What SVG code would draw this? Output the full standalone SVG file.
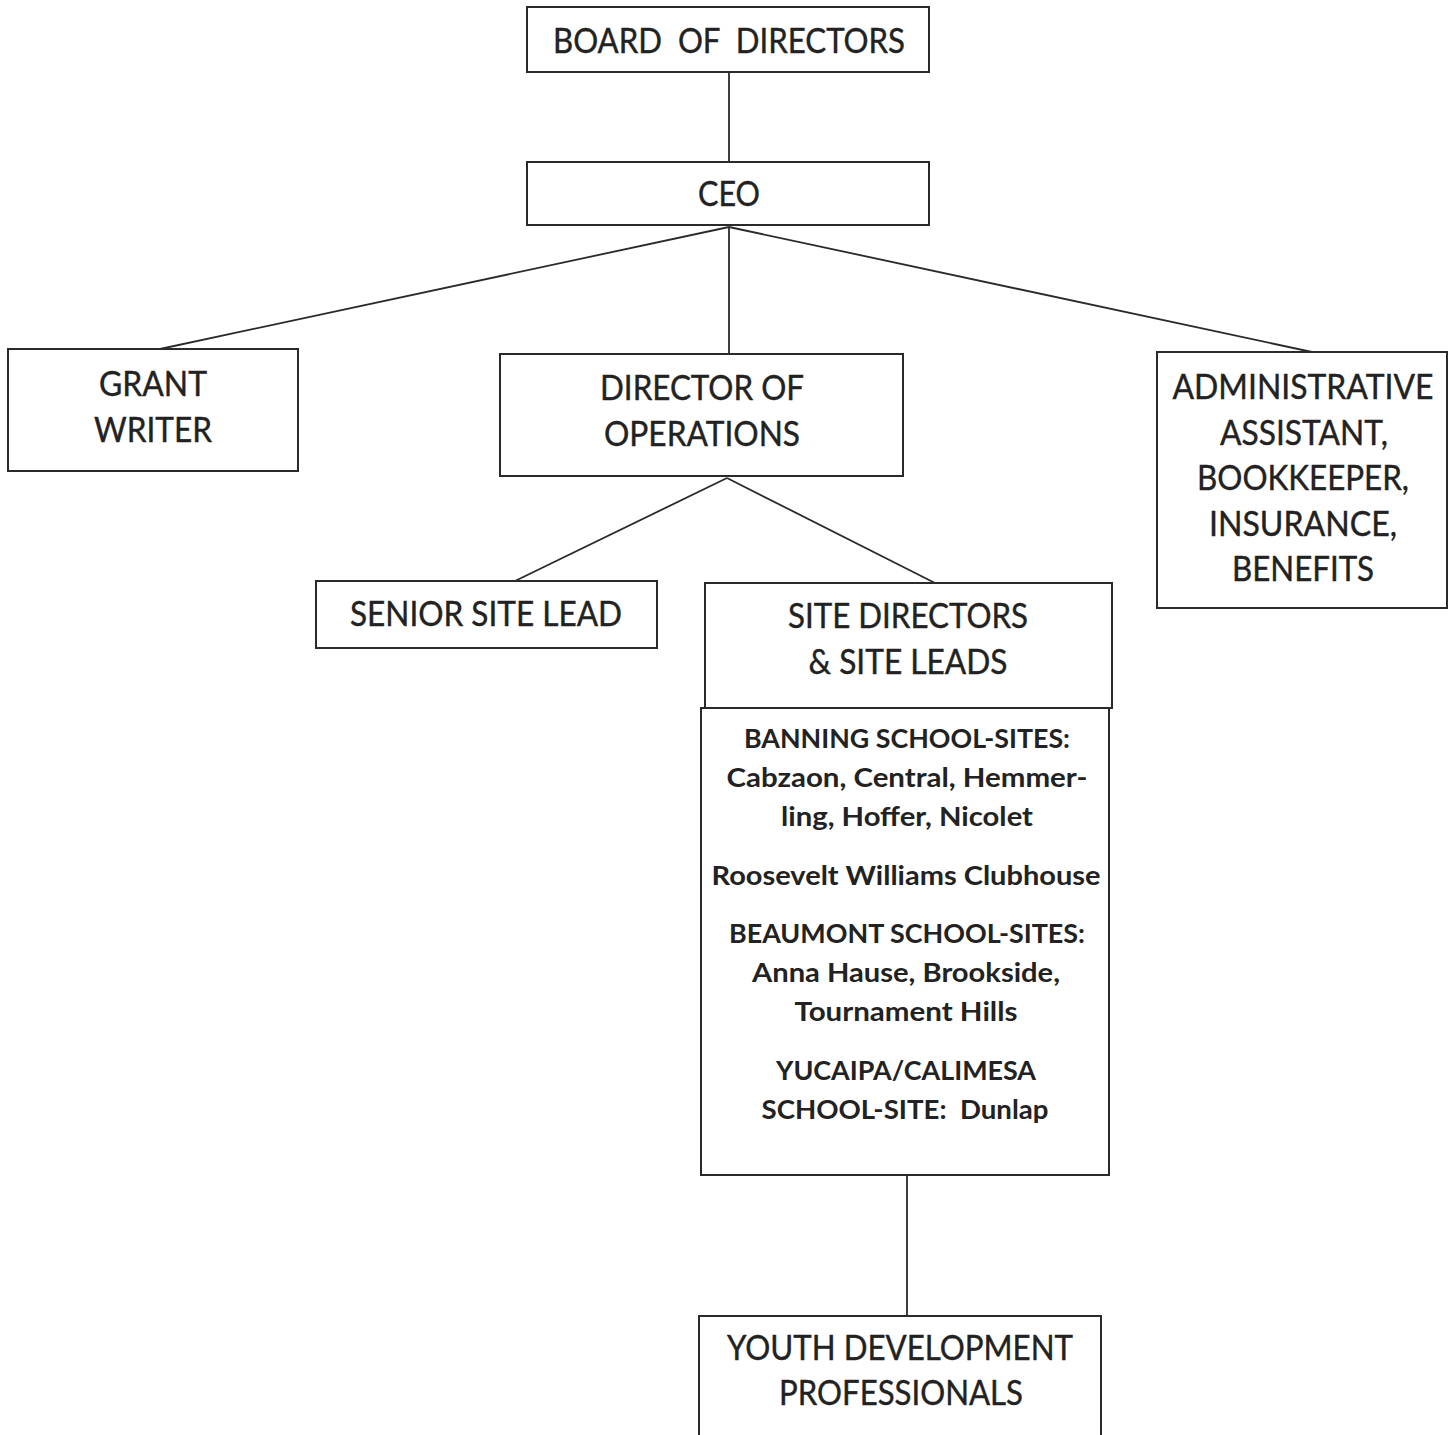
<svg xmlns="http://www.w3.org/2000/svg" width="1455" height="1435" viewBox="0 0 1455 1435">
<style>
.box{fill:#fff;stroke:#2a2a2a;stroke-width:2}
.ln{stroke:#2a2a2a;stroke-width:1.8;fill:none}
.t{font-family:Lato,"Open Sans","Liberation Sans",sans-serif;font-size:34px;fill:#222;text-anchor:middle;white-space:pre;stroke:#222;stroke-width:0.4}
.s{font-family:Lato,"Open Sans","Liberation Sans",sans-serif;font-size:27px;font-weight:bold;fill:#222;text-anchor:middle;white-space:pre}
</style>
<rect width="1455" height="1435" fill="#fff"/>
<g id="connectors">
<line class="ln" x1="729" y1="72" x2="729" y2="162"/>
<line class="ln" x1="729" y1="227" x2="160" y2="349"/>
<line class="ln" x1="729" y1="227" x2="729" y2="354"/>
<line class="ln" x1="729" y1="227" x2="1312" y2="352"/>
<line class="ln" x1="727" y1="478" x2="515" y2="581"/>
<line class="ln" x1="727" y1="478" x2="935" y2="583"/>
<line class="ln" x1="907" y1="1175" x2="907" y2="1316"/>
</g>
<g id="board">
<rect class="box" x="527" y="7" width="402" height="65"/>
<text class="t" x="729" y="53" xml:space="preserve" textLength="352" lengthAdjust="spacingAndGlyphs">BOARD  OF  DIRECTORS</text>
</g>
<g id="ceo">
<rect class="box" x="527" y="162" width="402" height="63"/>
<text class="t" x="729" y="206" textLength="62" lengthAdjust="spacingAndGlyphs">CEO</text>
</g>
<g id="grant-writer">
<rect class="box" x="8" y="349" width="290" height="122"/>
<text class="t" x="153" y="396" textLength="108" lengthAdjust="spacingAndGlyphs">GRANT</text>
<text class="t" x="153" y="442" textLength="118" lengthAdjust="spacingAndGlyphs">WRITER</text>
</g>
<g id="director-of-operations">
<rect class="box" x="500" y="354" width="403" height="122"/>
<text class="t" x="702" y="400" textLength="204" lengthAdjust="spacingAndGlyphs">DIRECTOR OF</text>
<text class="t" x="702" y="446" textLength="196" lengthAdjust="spacingAndGlyphs">OPERATIONS</text>
</g>
<g id="admin">
<rect class="box" x="1157" y="352" width="290" height="256"/>
<text class="t" x="1303" y="399" textLength="261" lengthAdjust="spacingAndGlyphs">ADMINISTRATIVE</text>
<text class="t" x="1304" y="445" textLength="168" lengthAdjust="spacingAndGlyphs">ASSISTANT,</text>
<text class="t" x="1303" y="490" textLength="212" lengthAdjust="spacingAndGlyphs">BOOKKEEPER,</text>
<text class="t" x="1303" y="536" textLength="188" lengthAdjust="spacingAndGlyphs">INSURANCE,</text>
<text class="t" x="1303" y="581" textLength="142" lengthAdjust="spacingAndGlyphs">BENEFITS</text>
</g>
<g id="senior-site-lead">
<rect class="box" x="316" y="581" width="341" height="67"/>
<text class="t" x="486" y="626" textLength="272" lengthAdjust="spacingAndGlyphs">SENIOR SITE LEAD</text>
</g>
<g id="site-directors">
<rect class="box" x="705" y="583" width="407" height="125"/>
<rect class="box" x="701" y="708" width="408" height="467"/>
<text class="t" x="908" y="628" textLength="240" lengthAdjust="spacingAndGlyphs">SITE DIRECTORS</text>
<text class="t" x="908" y="674" textLength="199" lengthAdjust="spacingAndGlyphs">&amp; SITE LEADS</text>
<text class="s" x="907" y="748" textLength="326" lengthAdjust="spacingAndGlyphs">BANNING SCHOOL-SITES:</text>
<text class="s" x="907" y="787" textLength="361" lengthAdjust="spacingAndGlyphs">Cabzaon, Central, Hemmer-</text>
<text class="s" x="907" y="826" textLength="252" lengthAdjust="spacingAndGlyphs">ling, Hoffer, Nicolet</text>
<text class="s" x="906" y="885" textLength="389" lengthAdjust="spacingAndGlyphs">Roosevelt Williams Clubhouse</text>
<text class="s" x="907" y="943" textLength="356" lengthAdjust="spacingAndGlyphs">BEAUMONT SCHOOL-SITES:</text>
<text class="s" x="906" y="982" textLength="308" lengthAdjust="spacingAndGlyphs">Anna Hause, Brookside,</text>
<text class="s" x="906" y="1021" textLength="223" lengthAdjust="spacingAndGlyphs">Tournament Hills</text>
<text class="s" x="906" y="1080" textLength="260" lengthAdjust="spacingAndGlyphs">YUCAIPA/CALIMESA</text>
<text class="s" x="905" y="1119" xml:space="preserve" textLength="287" lengthAdjust="spacingAndGlyphs">SCHOOL-SITE:  Dunlap</text>
</g>
<g id="youth-development">
<rect class="box" x="699" y="1316" width="402" height="125"/>
<text class="t" x="900" y="1360" textLength="346" lengthAdjust="spacingAndGlyphs">YOUTH DEVELOPMENT</text>
<text class="t" x="901" y="1405" textLength="244" lengthAdjust="spacingAndGlyphs">PROFESSIONALS</text>
</g>
</svg>
